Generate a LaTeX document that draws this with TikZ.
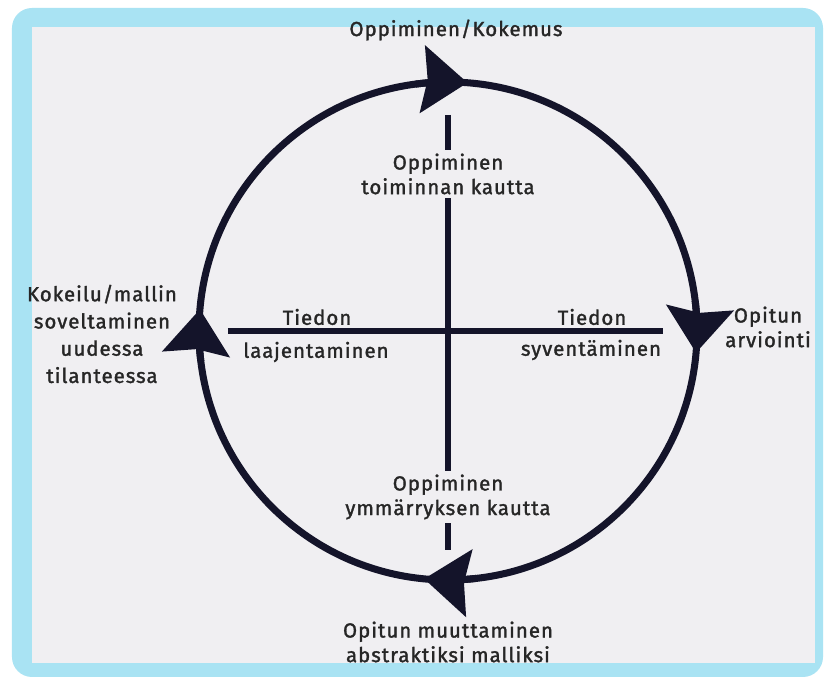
\documentclass[tikz,border=0pt]{standalone}
\usepackage{fontspec}
\setmainfont{Fira Sans}[LetterSpace=5, FakeBold=1.6]
\usetikzlibrary{arrows.meta}
\definecolor{frame}{HTML}{A9E3F3}
\definecolor{paper}{HTML}{F0EFF2}
\definecolor{ink}{HTML}{14142A}
\definecolor{txt}{HTML}{262626}
\tikzset{
  loopline/.style={line width=4pt, draw=ink},
  crossline/.style={line width=3.3pt, draw=ink},
  lbl/.style={text=txt, font=\fontsize{11.6}{14}\selectfont, align=center, inner sep=2pt},
  looparrow/.style={loopline, -{Stealth[length=0.9cm, width=1.34cm, inset=0.1cm]}}
}
\begin{document}
\begin{tikzpicture}
            \useasboundingbox (-8.96,-6.96) rectangle (7.52,6.62);
            \fill[white] (-8.96,-6.96) rectangle (7.52,6.62);
            \fill[frame, rounded corners=0.4cm] (-8.72,-6.92) rectangle (7.5,6.46);
            \fill[paper] (-8.32,-6.64) rectangle (7.34,6.08);
            \draw[loopline] (0,0) circle (4.98);
            \foreach \a in {85.5,-5,175,264.5}
                \draw[looparrow] (\a+12:4.98) arc (\a+12:\a:4.98);
            \coordinate (vtop) at (0,4.32);
            \coordinate (vbot) at (0,-4.38);
            \coordinate (hleft) at (-4.4,0);
            \coordinate (hright) at (4.3,0);
            \node[lbl] (toim) at (0,3.14) {Oppiminen\\toiminnan kautta};
            \node[lbl] (ymm) at (0,-3.32) {Oppiminen\\ymmärryksen kautta};
            \draw[crossline] (vtop) -- (toim);
            \draw[crossline] (toim) -- (ymm);
            \draw[crossline] (ymm) -- (vbot);
            \draw[crossline] (hleft) -- (hright);
            \node[lbl] (koke) at (0.16,6.02) {Oppiminen/Kokemus};
            \node[lbl] (arvi) at (6.4,0.08) {Opitun\\arviointi};
            \node[lbl] (abst) at (0,-6.22) {Opitun muuttaminen\\abstraktiksi malliksi};
            \node[lbl, font=\fontsize{11.6}{15.5}\selectfont] (sove) at (-6.92,-0.06) {Kokeilu/mallin\\soveltaminen\\uudessa\\tilanteessa};
            \node[lbl] (tiedl) at (-2.62,0.28) {Tiedon};
            \node[lbl] (laaj) at (-2.64,-0.42) {laajentaminen};
            \node[lbl] (tiedr) at (2.88,0.28) {Tiedon};
            \node[lbl] (syve) at (2.86,-0.38) {syventäminen};
\end{tikzpicture}
\end{document}
